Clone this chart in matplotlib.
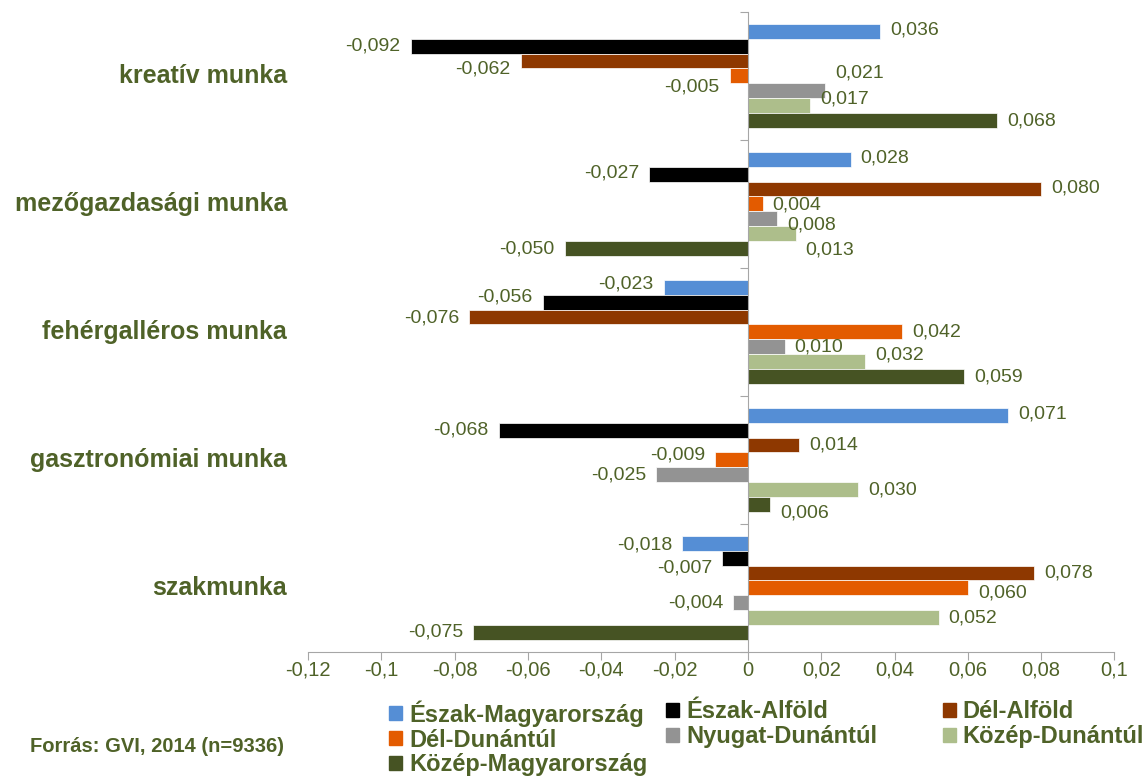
import numpy as np
import matplotlib
matplotlib.use('Agg')
import matplotlib.pyplot as plt
from matplotlib.patches import Patch

plt.rcParams['font.family'] = ['Liberation Sans', 'DejaVu Sans']

# adatok
categories = ['kreatív munka', 'mezőgazdasági munka', 'fehérgalléros munka',
              'gasztronómiai munka', 'szakmunka']
regions = ['Észak-Magyarország', 'Észak-Alföld', 'Dél-Alföld', 'Dél-Dunántúl',
           'Nyugat-Dunántúl', 'Közép-Dunántúl', 'Közép-Magyarország']
colors = ['#558ED5', '#000000', '#8E3800', '#E35B00', '#939393', '#ADBE8B', '#465323']

eszak_magyarorszag = [0.036, 0.028, -0.023, 0.071, -0.018]
eszak_alfold = [-0.092, -0.027, -0.056, -0.068, -0.007]
del_alfold = [-0.062, 0.080, -0.076, 0.014, 0.078]
del_dunantul = [-0.005, 0.004, 0.042, -0.009, 0.060]
nyugat_dunantul = [0.021, 0.008, 0.010, -0.025, -0.004]
kozep_dunantul = [0.017, 0.013, 0.032, 0.030, 0.052]
kozep_magyarorszag = [0.068, -0.050, 0.059, 0.006, -0.075]
series = [eszak_magyarorszag, eszak_alfold, del_alfold, del_dunantul,
          nyugat_dunantul, kozep_dunantul, kozep_magyarorszag]

xticks = [-0.12, -0.1, -0.08, -0.06, -0.04, -0.02, 0, 0.02, 0.04, 0.06, 0.08, 0.1]
xtick_labels = ['-0,12', '-0,1', '-0,08', '-0,06', '-0,04', '-0,02', '0',
                '0,02', '0,04', '0,06', '0,08', '0,1']

# Excel-szerű címke eltolások (pixel, lefelé pozitív), kategóriánként
label_dy = [
    [-1, 0, 8, 11, -18, -7, 0],
    [-1, -1, -1, 1, 6, 16, 0],
    [-3, -5, 1, 0, 0, -7, 0],
    [-1, 0, 0, -5, 0, 0, 8],
    [2, 10, 0, 5, 0, 0, -1],
]

text_color = '#4F6228'
axis_color = '#A6A6A6'

fig = plt.figure(figsize=(11.44, 7.78), dpi=100)
ax = fig.add_axes([0.2692, 0.162, 0.705, 0.8226])

n_ser = len(series)
bar_h = 0.117
for j, vals in enumerate(series):
    y = np.arange(len(categories)) + (j - (n_ser - 1) / 2) * bar_h
    ax.barh(y, vals, height=bar_h, color=colors[j], edgecolor='white', linewidth=0.5,
            label=regions[j])
    for i, v in enumerate(vals):
        txt = f'{v:.3f}'.replace('.', ',')
        dx = 10 if v >= 0 else -10
        ax.annotate(txt, (v, y[i]), xytext=(dx * 0.72, -label_dy[i][j] * 0.72),
                    textcoords='offset points', ha='left' if v >= 0 else 'right',
                    va='center', fontsize=14, color=text_color)

ax.set_ylim(len(categories) - 0.5, -0.5)
ax.set_xlim(-0.12, 0.1)
ax.set_xticks(xticks)
ax.set_xticklabels(xtick_labels, fontsize=14.5, color=text_color)

# függőleges tengely a 0-nál
ax.spines['left'].set_position(('data', 0))
ax.spines['right'].set_visible(False)
ax.spines['top'].set_visible(False)
ax.spines['left'].set_color(axis_color)
ax.spines['bottom'].set_color(axis_color)
ax.set_yticks(np.arange(len(categories) + 1) - 0.5)
ax.set_yticklabels([])
ax.tick_params(axis='y', direction='out', length=6, color=axis_color)
ax.tick_params(axis='x', direction='out', length=6, color=axis_color, pad=0.5)

for i, cat in enumerate(categories):
    ax.annotate(cat, (0, i), xycoords=('axes fraction', 'data'), xytext=(-15, 0),
                textcoords='offset points', ha='right', va='center',
                fontsize=18, fontweight='bold', color=text_color)

# jelmagyarázat: három oszlop, soronként töltve
handles = [Patch(color=c) for c in colors]
col_x = [0.340, 0.582, 0.824]
for c in range(3):
    idx = list(range(c, n_ser, 3))
    fig.legend([handles[k] for k in idx], [regions[k] for k in idx],
               loc='upper left', bbox_to_anchor=(col_x[c], 0.1),
               bbox_transform=fig.transFigure, frameon=False,
               prop={'size': 17, 'weight': 'bold'}, labelcolor=text_color,
               handlelength=0.55, handleheight=0.55, handletextpad=0.3,
               labelspacing=0.08, borderaxespad=0, borderpad=0)

fig.text(0.026, 0.041, 'Forrás: GVI, 2014 (n=9336)', fontsize=14.5, fontweight='bold',
         color=text_color, ha='left', va='center')

fig.savefig('out.png', dpi=100)
